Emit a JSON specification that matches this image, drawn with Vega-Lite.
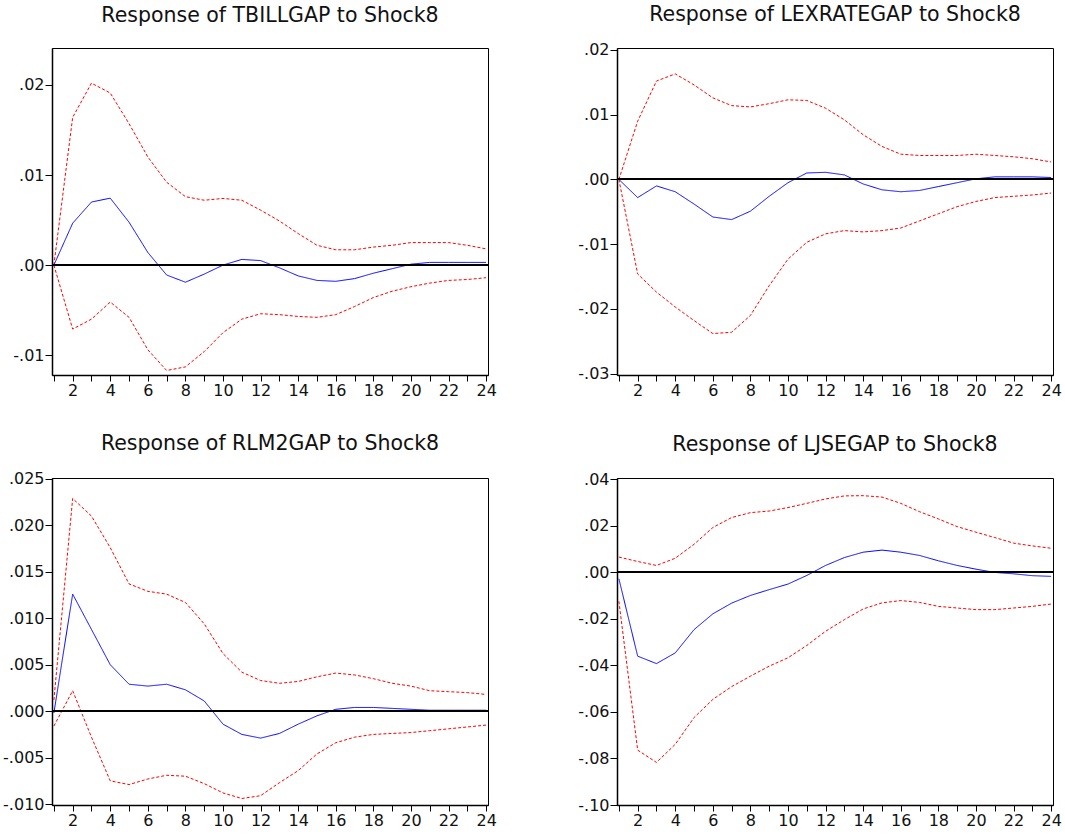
{
  "$schema": "https://vega.github.io/schema/vega-lite/v6.json",
  "background": "white",
  "padding": {"left": -2, "top": 4, "right": 2, "bottom": 2},
  "datasets": {
    "irf": [
      {"p":"TBILLGAP","k":1,"r":0,"lo":0,"hi":0},
      {"p":"TBILLGAP","k":2,"r":0.00465,"lo":-0.0071,"hi":0.0164},
      {"p":"TBILLGAP","k":3,"r":0.0070,"lo":-0.0060,"hi":0.0202},
      {"p":"TBILLGAP","k":4,"r":0.00743,"lo":-0.0041,"hi":0.0191},
      {"p":"TBILLGAP","k":5,"r":0.00476,"lo":-0.0058,"hi":0.0157},
      {"p":"TBILLGAP","k":6,"r":0.0014,"lo":-0.0094,"hi":0.0120},
      {"p":"TBILLGAP","k":7,"r":-0.0011,"lo":-0.0117,"hi":0.0092},
      {"p":"TBILLGAP","k":8,"r":-0.0019,"lo":-0.0113,"hi":0.0076},
      {"p":"TBILLGAP","k":9,"r":-0.0010,"lo":-0.0096,"hi":0.0072},
      {"p":"TBILLGAP","k":10,"r":0.0,"lo":-0.0075,"hi":0.0074},
      {"p":"TBILLGAP","k":11,"r":0.00063,"lo":-0.0060,"hi":0.0072},
      {"p":"TBILLGAP","k":12,"r":0.0005,"lo":-0.0054,"hi":0.0061},
      {"p":"TBILLGAP","k":13,"r":-0.0003,"lo":-0.0055,"hi":0.0049},
      {"p":"TBILLGAP","k":14,"r":-0.0012,"lo":-0.0057,"hi":0.0035},
      {"p":"TBILLGAP","k":15,"r":-0.0017,"lo":-0.0058,"hi":0.0022},
      {"p":"TBILLGAP","k":16,"r":-0.0018,"lo":-0.0055,"hi":0.0017},
      {"p":"TBILLGAP","k":17,"r":-0.0015,"lo":-0.0046,"hi":0.0017},
      {"p":"TBILLGAP","k":18,"r":-0.0009,"lo":-0.0036,"hi":0.0020},
      {"p":"TBILLGAP","k":19,"r":-0.0004,"lo":-0.0029,"hi":0.0022},
      {"p":"TBILLGAP","k":20,"r":0.0001,"lo":-0.0024,"hi":0.0025},
      {"p":"TBILLGAP","k":21,"r":0.0003,"lo":-0.0020,"hi":0.0025},
      {"p":"TBILLGAP","k":22,"r":0.0003,"lo":-0.0017,"hi":0.0025},
      {"p":"TBILLGAP","k":23,"r":0.0003,"lo":-0.0016,"hi":0.0022},
      {"p":"TBILLGAP","k":24,"r":0.0003,"lo":-0.0014,"hi":0.0018},

      {"p":"LEXRATEGAP","k":1,"r":0,"lo":0,"hi":0},
      {"p":"LEXRATEGAP","k":2,"r":-0.0028,"lo":-0.0146,"hi":0.0090},
      {"p":"LEXRATEGAP","k":3,"r":-0.0010,"lo":-0.0174,"hi":0.0152},
      {"p":"LEXRATEGAP","k":4,"r":-0.0019,"lo":-0.0197,"hi":0.0163},
      {"p":"LEXRATEGAP","k":5,"r":-0.0038,"lo":-0.0218,"hi":0.0146},
      {"p":"LEXRATEGAP","k":6,"r":-0.0058,"lo":-0.0238,"hi":0.0126},
      {"p":"LEXRATEGAP","k":7,"r":-0.0062,"lo":-0.0236,"hi":0.0114},
      {"p":"LEXRATEGAP","k":8,"r":-0.0049,"lo":-0.0210,"hi":0.0112},
      {"p":"LEXRATEGAP","k":9,"r":-0.0026,"lo":-0.0164,"hi":0.0117},
      {"p":"LEXRATEGAP","k":10,"r":-0.0005,"lo":-0.0123,"hi":0.0123},
      {"p":"LEXRATEGAP","k":11,"r":0.0010,"lo":-0.0097,"hi":0.0122},
      {"p":"LEXRATEGAP","k":12,"r":0.0011,"lo":-0.0084,"hi":0.0110},
      {"p":"LEXRATEGAP","k":13,"r":0.0007,"lo":-0.0079,"hi":0.0092},
      {"p":"LEXRATEGAP","k":14,"r":-0.0007,"lo":-0.0081,"hi":0.0069},
      {"p":"LEXRATEGAP","k":15,"r":-0.0016,"lo":-0.0079,"hi":0.0051},
      {"p":"LEXRATEGAP","k":16,"r":-0.0019,"lo":-0.0075,"hi":0.0039},
      {"p":"LEXRATEGAP","k":17,"r":-0.0017,"lo":-0.0064,"hi":0.0037},
      {"p":"LEXRATEGAP","k":18,"r":-0.0011,"lo":-0.0053,"hi":0.0037},
      {"p":"LEXRATEGAP","k":19,"r":-0.0005,"lo":-0.0042,"hi":0.0037},
      {"p":"LEXRATEGAP","k":20,"r":0.0001,"lo":-0.0034,"hi":0.0039},
      {"p":"LEXRATEGAP","k":21,"r":0.0004,"lo":-0.0028,"hi":0.0037},
      {"p":"LEXRATEGAP","k":22,"r":0.0004,"lo":-0.0026,"hi":0.0035},
      {"p":"LEXRATEGAP","k":23,"r":0.0004,"lo":-0.0024,"hi":0.0032},
      {"p":"LEXRATEGAP","k":24,"r":0.0003,"lo":-0.0021,"hi":0.0027},

      {"p":"RLM2GAP","k":1,"r":-0.0002,"lo":-0.0016,"hi":0.0012},
      {"p":"RLM2GAP","k":2,"r":0.0126,"lo":0.0022,"hi":0.0229},
      {"p":"RLM2GAP","k":3,"r":0.0088,"lo":-0.0028,"hi":0.0210},
      {"p":"RLM2GAP","k":4,"r":0.0050,"lo":-0.0075,"hi":0.0176},
      {"p":"RLM2GAP","k":5,"r":0.0029,"lo":-0.0079,"hi":0.0137},
      {"p":"RLM2GAP","k":6,"r":0.0027,"lo":-0.0073,"hi":0.0129},
      {"p":"RLM2GAP","k":7,"r":0.0029,"lo":-0.0069,"hi":0.0126},
      {"p":"RLM2GAP","k":8,"r":0.0023,"lo":-0.0070,"hi":0.0117},
      {"p":"RLM2GAP","k":9,"r":0.0011,"lo":-0.0078,"hi":0.0094},
      {"p":"RLM2GAP","k":10,"r":-0.0014,"lo":-0.0088,"hi":0.0062},
      {"p":"RLM2GAP","k":11,"r":-0.0025,"lo":-0.0094,"hi":0.0042},
      {"p":"RLM2GAP","k":12,"r":-0.0029,"lo":-0.0091,"hi":0.0033},
      {"p":"RLM2GAP","k":13,"r":-0.0024,"lo":-0.0077,"hi":0.0030},
      {"p":"RLM2GAP","k":14,"r":-0.0014,"lo":-0.0064,"hi":0.0032},
      {"p":"RLM2GAP","k":15,"r":-0.0005,"lo":-0.0046,"hi":0.0037},
      {"p":"RLM2GAP","k":16,"r":0.0002,"lo":-0.0034,"hi":0.0041},
      {"p":"RLM2GAP","k":17,"r":0.0004,"lo":-0.0028,"hi":0.0039},
      {"p":"RLM2GAP","k":18,"r":0.0004,"lo":-0.0025,"hi":0.0035},
      {"p":"RLM2GAP","k":19,"r":0.0003,"lo":-0.0024,"hi":0.0030},
      {"p":"RLM2GAP","k":20,"r":0.0002,"lo":-0.0023,"hi":0.0027},
      {"p":"RLM2GAP","k":21,"r":0.0001,"lo":-0.0021,"hi":0.0022},
      {"p":"RLM2GAP","k":22,"r":0.0001,"lo":-0.0019,"hi":0.0021},
      {"p":"RLM2GAP","k":23,"r":0.0001,"lo":-0.0017,"hi":0.0020},
      {"p":"RLM2GAP","k":24,"r":0.0001,"lo":-0.0015,"hi":0.0018},

      {"p":"LJSEGAP","k":1,"r":-0.0027,"lo":-0.0124,"hi":0.0066},
      {"p":"LJSEGAP","k":2,"r":-0.0360,"lo":-0.0764,"hi":0.0047},
      {"p":"LJSEGAP","k":3,"r":-0.0392,"lo":-0.0817,"hi":0.0030},
      {"p":"LJSEGAP","k":4,"r":-0.0346,"lo":-0.0739,"hi":0.0061},
      {"p":"LJSEGAP","k":5,"r":-0.0246,"lo":-0.0624,"hi":0.0121},
      {"p":"LJSEGAP","k":6,"r":-0.0178,"lo":-0.0546,"hi":0.0193},
      {"p":"LJSEGAP","k":7,"r":-0.0132,"lo":-0.0491,"hi":0.0236},
      {"p":"LJSEGAP","k":8,"r":-0.0099,"lo":-0.0446,"hi":0.0257},
      {"p":"LJSEGAP","k":9,"r":-0.0074,"lo":-0.0403,"hi":0.0264},
      {"p":"LJSEGAP","k":10,"r":-0.0050,"lo":-0.0367,"hi":0.0279},
      {"p":"LJSEGAP","k":11,"r":-0.0013,"lo":-0.0314,"hi":0.0297},
      {"p":"LJSEGAP","k":12,"r":0.0030,"lo":-0.0253,"hi":0.0316},
      {"p":"LJSEGAP","k":13,"r":0.0064,"lo":-0.0203,"hi":0.0329},
      {"p":"LJSEGAP","k":14,"r":0.0087,"lo":-0.0157,"hi":0.0330},
      {"p":"LJSEGAP","k":15,"r":0.0096,"lo":-0.0131,"hi":0.0324},
      {"p":"LJSEGAP","k":16,"r":0.0087,"lo":-0.0121,"hi":0.0297},
      {"p":"LJSEGAP","k":17,"r":0.0073,"lo":-0.0129,"hi":0.0261},
      {"p":"LJSEGAP","k":18,"r":0.0050,"lo":-0.0146,"hi":0.0230},
      {"p":"LJSEGAP","k":19,"r":0.0030,"lo":-0.0153,"hi":0.0197},
      {"p":"LJSEGAP","k":20,"r":0.0014,"lo":-0.0160,"hi":0.0173},
      {"p":"LJSEGAP","k":21,"r":0.0,"lo":-0.0160,"hi":0.0150},
      {"p":"LJSEGAP","k":22,"r":-0.0006,"lo":-0.0153,"hi":0.0126},
      {"p":"LJSEGAP","k":23,"r":-0.0014,"lo":-0.0146,"hi":0.0114},
      {"p":"LJSEGAP","k":24,"r":-0.0017,"lo":-0.0136,"hi":0.0104}
    ]
  },
  "columns": 2,
  "spacing": {"column": 66, "row": 29},
  "concat": [
    {
      "width": 436, "height": 327,
      "title": {"text": "Response of TBILLGAP to Shock8", "offset": 22},
      "data": {"name": "irf"},
      "transform": [{"filter": "datum.p == 'TBILLGAP'"}, {"fold": ["hi", "lo", "r"], "as": ["key", "val"]}],
      "encoding": {
        "y": {"type": "quantitative", "title": null, "scale": {"domain": [-0.0122, 0.0241], "nice": false, "zero": false},
              "axis": {"values": [-0.01, 0, 0.01, 0.02], "format": ".2f", "labelExpr": "replace(replace(datum.label, '−', '-'), '0.', '.')"}}
      },
      "layer": [
        {"mark": {"type": "line"},
         "encoding": {
           "x": {"field": "k", "type": "quantitative", "title": null, "scale": {"domain": [0.9, 24.1], "nice": false, "zero": false},
                 "axis": {"values": [1,2,3,4,5,6,7,8,9,10,11,12,13,14,15,16,17,18,19,20,21,22,23,24], "labelExpr": "datum.value % 2 == 0 ? datum.label : ''"}},
           "y": {"field": "val"},
           "color": {"field": "key", "type": "nominal", "scale": {"domain": ["hi", "lo", "r"], "range": ["#FF0000", "#FF0000", "#0000FF"]}, "legend": null},
           "strokeDash": {"field": "key", "type": "nominal", "scale": {"domain": ["hi", "lo", "r"], "range": [[3, 2], [3, 2], [1, 0]]}, "legend": null},
           "strokeWidth": {"field": "key", "type": "nominal", "scale": {"domain": ["hi", "lo", "r"], "range": [1, 1, 1.4]}, "legend": null}
         }},
        {"mark": {"type": "rule", "color": "#000000", "strokeWidth": 1}, "encoding": {"y": {"datum": 0}}}
      ]
    },
    {
      "width": 436, "height": 327,
      "title": {"text": "Response of LEXRATEGAP to Shock8", "offset": 16},
      "data": {"name": "irf"},
      "transform": [{"filter": "datum.p == 'LEXRATEGAP'"}, {"fold": ["hi", "lo", "r"], "as": ["key", "val"]}],
      "encoding": {
        "y": {"type": "quantitative", "title": null, "scale": {"domain": [-0.0302, 0.0203], "nice": false, "zero": false},
              "axis": {"values": [-0.03, -0.02, -0.01, 0, 0.01, 0.02], "format": ".2f", "labelExpr": "replace(replace(datum.label, '−', '-'), '0.', '.')"}}
      },
      "layer": [
        {"mark": {"type": "line"},
         "encoding": {
           "x": {"field": "k", "type": "quantitative", "title": null, "scale": {"domain": [0.9, 24.1], "nice": false, "zero": false},
                 "axis": {"values": [1,2,3,4,5,6,7,8,9,10,11,12,13,14,15,16,17,18,19,20,21,22,23,24], "labelExpr": "datum.value % 2 == 0 ? datum.label : ''"}},
           "y": {"field": "val"},
           "color": {"field": "key", "type": "nominal", "scale": {"domain": ["hi", "lo", "r"], "range": ["#FF0000", "#FF0000", "#0000FF"]}, "legend": null},
           "strokeDash": {"field": "key", "type": "nominal", "scale": {"domain": ["hi", "lo", "r"], "range": [[3, 2], [3, 2], [1, 0]]}, "legend": null},
           "strokeWidth": {"field": "key", "type": "nominal", "scale": {"domain": ["hi", "lo", "r"], "range": [1, 1, 1.4]}, "legend": null}
         }},
        {"mark": {"type": "rule", "color": "#000000", "strokeWidth": 1}, "encoding": {"y": {"datum": 0}}}
      ]
    },
    {
      "width": 436, "height": 327,
      "title": {"text": "Response of RLM2GAP to Shock8", "offset": 16},
      "data": {"name": "irf"},
      "transform": [{"filter": "datum.p == 'RLM2GAP'"}, {"fold": ["hi", "lo", "r"], "as": ["key", "val"]}],
      "encoding": {
        "y": {"type": "quantitative", "title": null, "scale": {"domain": [-0.0101, 0.0251], "nice": false, "zero": false},
              "axis": {"values": [-0.01, -0.005, 0, 0.005, 0.01, 0.015, 0.02, 0.025], "format": ".3f", "labelExpr": "replace(replace(datum.label, '−', '-'), '0.', '.')"}}
      },
      "layer": [
        {"mark": {"type": "line"},
         "encoding": {
           "x": {"field": "k", "type": "quantitative", "title": null, "scale": {"domain": [0.9, 24.1], "nice": false, "zero": false},
                 "axis": {"values": [1,2,3,4,5,6,7,8,9,10,11,12,13,14,15,16,17,18,19,20,21,22,23,24], "labelExpr": "datum.value % 2 == 0 ? datum.label : ''"}},
           "y": {"field": "val"},
           "color": {"field": "key", "type": "nominal", "scale": {"domain": ["hi", "lo", "r"], "range": ["#FF0000", "#FF0000", "#0000FF"]}, "legend": null},
           "strokeDash": {"field": "key", "type": "nominal", "scale": {"domain": ["hi", "lo", "r"], "range": [[3, 2], [3, 2], [1, 0]]}, "legend": null},
           "strokeWidth": {"field": "key", "type": "nominal", "scale": {"domain": ["hi", "lo", "r"], "range": [1, 1, 1.4]}, "legend": null}
         }},
        {"mark": {"type": "rule", "color": "#000000", "strokeWidth": 1}, "encoding": {"y": {"datum": 0}}}
      ]
    },
    {
      "width": 436, "height": 327,
      "title": {"text": "Response of LJSEGAP to Shock8", "offset": 16},
      "data": {"name": "irf"},
      "transform": [{"filter": "datum.p == 'LJSEGAP'"}, {"fold": ["hi", "lo", "r"], "as": ["key", "val"]}],
      "encoding": {
        "y": {"type": "quantitative", "title": null, "scale": {"domain": [-0.1, 0.0406], "nice": false, "zero": false},
              "axis": {"values": [-0.1, -0.08, -0.06, -0.04, -0.02, 0, 0.02, 0.04], "format": ".2f", "labelExpr": "replace(replace(datum.label, '−', '-'), '0.', '.')"}}
      },
      "layer": [
        {"mark": {"type": "line"},
         "encoding": {
           "x": {"field": "k", "type": "quantitative", "title": null, "scale": {"domain": [0.9, 24.1], "nice": false, "zero": false},
                 "axis": {"values": [1,2,3,4,5,6,7,8,9,10,11,12,13,14,15,16,17,18,19,20,21,22,23,24], "labelExpr": "datum.value % 2 == 0 ? datum.label : ''"}},
           "y": {"field": "val"},
           "color": {"field": "key", "type": "nominal", "scale": {"domain": ["hi", "lo", "r"], "range": ["#FF0000", "#FF0000", "#0000FF"]}, "legend": null},
           "strokeDash": {"field": "key", "type": "nominal", "scale": {"domain": ["hi", "lo", "r"], "range": [[3, 2], [3, 2], [1, 0]]}, "legend": null},
           "strokeWidth": {"field": "key", "type": "nominal", "scale": {"domain": ["hi", "lo", "r"], "range": [1, 1, 1.4]}, "legend": null}
         }},
        {"mark": {"type": "rule", "color": "#000000", "strokeWidth": 1}, "encoding": {"y": {"datum": 0}}}
      ]
    }
  ],
  "config": {
    "view": {"stroke": "#000000", "strokeWidth": 1},
    "font": "DejaVu Sans",
    "title": {"font": "DejaVu Sans", "fontSize": 20.5, "fontWeight": "normal", "color": "#111111", "anchor": "middle"},
    "axis": {"grid": false, "domain": true, "domainColor": "#000000", "domainWidth": 1.5, "tickColor": "#000000", "tickWidth": 1,
             "labelFont": "DejaVu Sans", "labelFontSize": 16, "labelColor": "#111111", "labelPadding": 1, "labelFlush": false, "labelOverlap": false},
    "axisX": {"tickSize": 6, "minExtent": 28, "maxExtent": 28},
    "axisY": {"tickSize": 7, "minExtent": 53, "maxExtent": 53}
  }
}
